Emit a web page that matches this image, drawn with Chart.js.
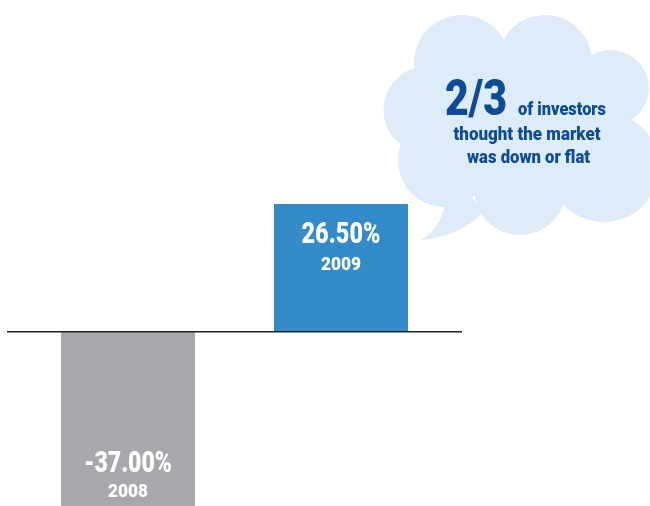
<!DOCTYPE html>
<html>
<head>
<meta charset="utf-8">
<script src="https://cdn.jsdelivr.net/npm/chart.js@4"></script>
<style>
  html, body { margin: 0; padding: 0; background: #ffffff; }
  #wrap { width: 650px; height: 506px; position: relative; }
</style>
</head>
<body>
<div id="wrap"><canvas id="c"></canvas></div>
<script>
// ---- data ----
const categories = ['2008', '2009'];
const values = [-37.0, 26.5];
const valueLabels = ['-37.00%', '26.50%'];
const calloutBig = '2/3';
const calloutLines = ['of investors', 'thought the market', 'was down or flat'];

// ---- styles ----
const barColors = ['#a7a8ab', '#338bc9'];
const cloudColor = '#deebf8';
const cloudText = '#0b4b98';
const FONT = 'Roboto, "Liberation Sans", sans-serif';
const W = '900 ';

// draws text squeezed horizontally to a given width
function fitText(ctx, text, x, y, font, color, align, width) {
  ctx.save();
  ctx.font = font;
  ctx.fillStyle = color;
  ctx.textBaseline = 'alphabetic';
  ctx.textAlign = align;
  const sx = width / ctx.measureText(text).width;
  ctx.translate(x, y);
  ctx.scale(sx, 1);
  ctx.fillText(text, 0, 0);
  ctx.restore();
}

const cloudPlugin = {
  id: 'cloud',
  beforeDatasetsDraw(chart) {
    const ctx = chart.ctx;
    ctx.save();
    ctx.fillStyle = cloudColor;
    const lobes = [
      [462, 63, 48, 48],
      [545, 62, 47, 47],
      [611, 88, 38, 38],
      [604, 167, 55, 55],
      [520, 189, 46, 46],
      [444, 160, 46, 47],
      [427, 110, 43.5, 43.5]
    ];
    lobes.forEach(l => {
      ctx.beginPath();
      ctx.ellipse(l[0], l[1], l[2], l[3], 0, 0, Math.PI * 2);
      ctx.fill();
    });
    ctx.beginPath();
    lobes.forEach((l, i) => i ? ctx.lineTo(l[0], l[1]) : ctx.moveTo(l[0], l[1]));
    ctx.closePath();
    ctx.fill();
    // tail
    ctx.beginPath();
    ctx.moveTo(436, 195);
    ctx.lineTo(446, 200);
    ctx.quadraticCurveTo(441, 230, 420, 240);
    ctx.quadraticCurveTo(462, 236, 483, 212);
    ctx.lineTo(470, 195);
    ctx.closePath();
    ctx.fill();
    ctx.restore();

    // callout text
    fitText(ctx, calloutBig, 445, 115, W + '50px ' + FONT, cloudText, 'left', 62);
    fitText(ctx, calloutLines[0], 518, 115, W + '19px ' + FONT, cloudText, 'left', 88);
    fitText(ctx, calloutLines[1], 527, 140, W + '19px ' + FONT, cloudText, 'center', 147);
    fitText(ctx, calloutLines[2], 528.5, 163, W + '19px ' + FONT, cloudText, 'center', 123);
  },
  afterDatasetsDraw(chart) {
    const ctx = chart.ctx;
    const y0 = chart.scales.y.getPixelForValue(0);
    ctx.save();
    ctx.strokeStyle = '#222222';
    ctx.lineWidth = 1.6;
    ctx.beginPath();
    ctx.moveTo(7, y0);
    ctx.lineTo(462, y0);
    ctx.stroke();
    ctx.restore();

    const meta = chart.getDatasetMeta(0);
    meta.data.forEach((el, i) => {
      const v = values[i];
      let vb, yb;
      if (v >= 0) {
        vb = el.y + 39; yb = el.y + 66;
      } else {
        yb = el.y - 13; vb = el.y - 38;
      }
      fitText(ctx, valueLabels[i], el.x, vb, W + '29px ' + FONT, '#ffffff', 'center', v >= 0 ? 79 : 88);
      fitText(ctx, categories[i], el.x, yb, W + '19px ' + FONT, '#ffffff', 'center', 40);
    });
  }
};

new Chart(document.getElementById('c'), {
  type: 'bar',
  data: {
    labels: categories,
    datasets: [{
      data: values,
      backgroundColor: barColors,
      borderWidth: 0,
      barPercentage: 0.629,
      categoryPercentage: 1.0
    }]
  },
  options: {
    responsive: true,
    maintainAspectRatio: false,
    animation: false,
    events: [],
    layout: { padding: { left: 21.5, right: 202.5, top: 0, bottom: 0 } },
    plugins: { legend: { display: false }, tooltip: { enabled: false }, title: { display: false } },
    scales: {
      x: { display: false },
      y: { display: false, min: -36.17, max: 68.83 }
    }
  },
  plugins: [cloudPlugin]
});
</script>
</body>
</html>
